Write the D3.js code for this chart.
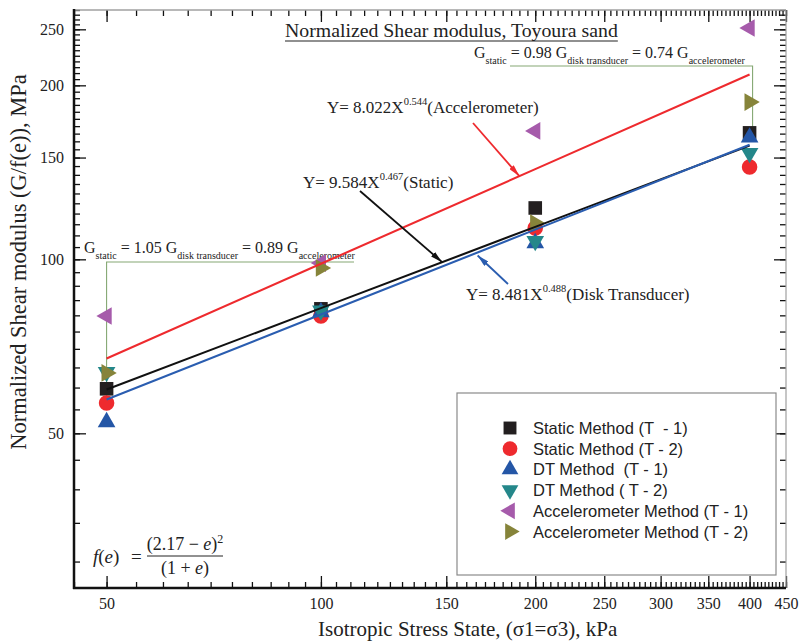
<!DOCTYPE html>
<html>
<head>
<meta charset="utf-8">
<script src="https://cdn.jsdelivr.net/npm/d3@7"></script>
<style>
  body { margin: 0; background: #fff; }
  text { white-space: pre; }
</style>
</head>
<body>
<svg id="chart" width="804" height="642"></svg>
<script>
// Confining stress levels (kPa)
const stress = [50, 100, 200, 400];

// Normalized shear modulus G/f(e), MPa, per test method and specimen
const staticT1 = [59.7, 82.1, 122.7, 165.5];
const staticT2 = [56.4, 79.8, 113.3, 144.5];
const dtT1     = [52.3, 81.0, 106.7, 162.5];
const dtT2     = [63.8, 81.5, 107.5, 152.7];
const accelT1  = [79.8, 98.5, 166.8, 251.3];
const accelT2  = [63.6, 96.6, 115.5, 187.1];

// Power-law fits Y = a * X^b
const fitNames = ["Accelerometer", "Static", "Disk Transducer"];
const fitA     = [8.022, 9.584, 8.481];
const fitB     = [0.544, 0.467, 0.488];

// Axis ticks
const xMajorTicks = [50, 100, 150, 200, 250, 300, 350, 400, 450];
const yMajorTicks = [50, 100, 150, 200, 250];
const xMinorTicks = d3.range(45, 451, 5);
const yMinorTicks = d3.range(30, 271, 5);

const legendLabels = [
  "Static Method (T  - 1)",
  "Static Method (T - 2)",
  "DT Method  (T - 1)",
  "DT Method ( T - 2)",
  "Accelerometer Method (T - 1)",
  "Accelerometer Method (T - 2)"
];

const serif = "'Liberation Serif','Times New Roman',serif";
const sans = "'Liberation Sans',Arial,sans-serif";

const svg = d3.select("#chart");
const plot = { left: 74, right: 786, top: 10, bottom: 588 };

const x = d3.scaleLog().domain([45, 450]).range([plot.left, plot.right]);
const y = d3.scaleLog().domain([27, 270]).range([plot.bottom, plot.top]);

const fitColors = ["#ee2a2e", "#111111", "#2a5db0"];
const fitFn = i => v => fitA[i] * Math.pow(v, fitB[i]);

// ---- axes: ticks on all four sides, pointing inward ----
function tickLayer(gen, transform, labelled) {
  const g = svg.append("g").attr("transform", transform).call(gen);
  g.select(".domain").remove();
  g.selectAll(".tick line").attr("stroke", "#111").attr("stroke-width", 1.3);
  if (labelled) {
    g.selectAll(".tick text").attr("font-family", serif).attr("font-size", 16).attr("fill", "#222");
  }
  return g;
}
const noLabel = () => "";
tickLayer(d3.axisBottom(x).tickValues(xMinorTicks).tickSize(-6).tickFormat(noLabel), `translate(0,${plot.bottom})`);
tickLayer(d3.axisBottom(x).tickValues(xMajorTicks).tickSize(-12).tickPadding(10).tickFormat(d3.format("d")), `translate(0,${plot.bottom})`, true);
tickLayer(d3.axisTop(x).tickValues(xMinorTicks).tickSize(-6).tickFormat(noLabel), `translate(0,${plot.top})`);
tickLayer(d3.axisTop(x).tickValues(xMajorTicks).tickSize(-12).tickFormat(noLabel), `translate(0,${plot.top})`);
tickLayer(d3.axisLeft(y).tickValues(yMinorTicks).tickSize(-6).tickFormat(noLabel), `translate(${plot.left},0)`);
tickLayer(d3.axisLeft(y).tickValues(yMajorTicks).tickSize(-12).tickPadding(10).tickFormat(d3.format("d")), `translate(${plot.left},0)`, true);
tickLayer(d3.axisRight(y).tickValues(yMinorTicks).tickSize(-6).tickFormat(noLabel), `translate(${plot.right},0)`);
tickLayer(d3.axisRight(y).tickValues(yMajorTicks).tickSize(-12).tickFormat(noLabel), `translate(${plot.right},0)`);

// frame
svg.append("line").attr("x1", plot.left).attr("x2", plot.right).attr("y1", plot.top).attr("y2", plot.top)
  .attr("stroke", "#a0a0a0").attr("stroke-width", 1.5);
svg.append("line").attr("x1", plot.right).attr("x2", plot.right).attr("y1", plot.top).attr("y2", plot.bottom)
  .attr("stroke", "#a0a0a0").attr("stroke-width", 1.2);
svg.append("line").attr("x1", plot.left).attr("x2", plot.left).attr("y1", plot.top - 1).attr("y2", plot.bottom + 1)
  .attr("stroke", "#111").attr("stroke-width", 2.5);
svg.append("line").attr("x1", plot.left - 1).attr("x2", plot.right).attr("y1", plot.bottom).attr("y2", plot.bottom)
  .attr("stroke", "#111").attr("stroke-width", 2.5);

// axis titles
svg.append("text")
  .attr("transform", `translate(26,262) rotate(-90)`)
  .attr("text-anchor", "middle").attr("font-family", serif).attr("font-size", 22.5).attr("fill", "#222")
  .text("Normalized Shear modulus (G/f(e)), MPa");
svg.append("text")
  .attr("x", 318).attr("y", 636)
  .attr("font-family", serif).attr("font-size", 21).attr("fill", "#222")
  .text("Isotropic Stress State, (σ1=σ3), kPa");

// ---- ratio brackets ----
const bracketColor = "#86a874";
function ratioNote(x0, baseline, pieces) {
  const t = svg.append("text").attr("x", x0).attr("y", baseline)
    .attr("font-family", serif).attr("fill", "#222").attr("font-size", 16);
  let low = false;
  pieces.forEach(p => {
    const sub = p[1];
    const dy = sub === low ? 0 : (sub ? 6 : -6);
    low = sub;
    t.append("tspan").attr("dy", dy).attr("font-size", sub ? 10 : 16).text(p[0]);
  });
}
// at 400 kPa
ratioNote(474, 58, [["G", false], ["static", true], [" = 0.98 G", false], ["disk transducer", true],
                    [" = 0.74 G", false], ["accelerometer", true]]);
svg.append("path")
  .attr("d", `M510,66H${x(400) + 3}V128`)
  .attr("fill", "none").attr("stroke", bracketColor).attr("stroke-width", 1.1);
// at 50 kPa
ratioNote(84, 253, [["G", false], ["static", true], [" = 1.05 G", false], ["disk transducer", true],
                    [" = 0.89 G", false], ["accelerometer", true]]);
svg.append("path")
  .attr("d", `M${x(50)},396V262H354`)
  .attr("fill", "none").attr("stroke", bracketColor).attr("stroke-width", 1.1);

// ---- measured points ----
const seriesVals = [staticT1, staticT2, dtT1, dtT2, accelT1, accelT2];
const seriesStyle = [
  { type: d3.symbolSquare,   size: 185, rot: 0,   color: "#231f20" },
  { type: d3.symbolCircle,   size: 190, rot: 0,   color: "#ee2a2e" },
  { type: d3.symbolTriangle, size: 135, rot: 0,   color: "#2456a6" },
  { type: d3.symbolTriangle, size: 135, rot: 180, color: "#24878a" },
  { type: d3.symbolTriangle, size: 135, rot: -90, color: "#a65bab" },
  { type: d3.symbolTriangle, size: 135, rot: 90,  color: "#86843a" }
];
seriesVals.forEach((vals, si) => {
  const st = seriesStyle[si];
  svg.append("g").selectAll("path")
    .data(stress.map((s, i) => [s, vals[i]]))
    .join("path")
    .attr("d", d3.symbol().type(st.type).size(st.size))
    .attr("transform", d => `translate(${x(d[0])},${y(d[1])}) rotate(${st.rot})`)
    .attr("fill", st.color);
});

// ---- fitted power-law lines ----
const line = d3.line().x(d => x(d[0])).y(d => y(d[1]));
fitA.forEach((a, i) => {
  const f = fitFn(i);
  svg.append("path")
    .datum(stress.map(s => [s, f(s)]))
    .attr("d", line)
    .attr("fill", "none").attr("stroke", fitColors[i]).attr("stroke-width", 2.1);
});

// ---- fit labels with leader arrows ----
const defs = svg.append("defs");
fitColors.forEach((c, i) => {
  defs.append("marker").attr("id", "arrow" + i)
    .attr("viewBox", "0 0 12 6").attr("refX", 12).attr("refY", 3)
    .attr("markerWidth", 12).attr("markerHeight", 6).attr("markerUnits", "userSpaceOnUse")
    .attr("orient", "auto")
    .append("path").attr("d", "M0,0L12,3L0,6Z").attr("fill", c);
});

function fitLabel(i, lx, ly) {
  const t = svg.append("text").attr("x", lx).attr("y", ly)
    .attr("font-family", serif).attr("font-size", 17).attr("fill", "#222");
  t.append("tspan").text(`Y= ${fitA[i].toFixed(3)}X`);
  t.append("tspan").attr("dy", -8).attr("font-size", 10.5).text(fitB[i].toFixed(3));
  t.append("tspan").attr("dy", 8).text(`(${fitNames[i]})`);
}
function leader(i, fromX, fromY, atX, offY) {
  const tx = x(atX), ty = y(fitFn(i)(atX)) + offY;
  svg.append("line").attr("x1", fromX).attr("y1", fromY).attr("x2", tx).attr("y2", ty)
    .attr("stroke", fitColors[i]).attr("stroke-width", 1.8)
    .attr("marker-end", `url(#arrow${i})`);
}
fitLabel(0, 327, 113);
leader(0, 473, 123, 190, 0);
fitLabel(1, 303, 188);
leader(1, 360, 191, 148, 0);
fitLabel(2, 466, 300);
leader(2, 508, 284, 166, 3);

// ---- legend ----
const lg = svg.append("g");
lg.append("rect").attr("x", 457).attr("y", 393).attr("width", 319).attr("height", 182)
  .attr("fill", "#fff").attr("stroke", "#8a8a8a").attr("stroke-width", 1.2);
legendLabels.forEach((lab, i) => {
  const st = seriesStyle[i];
  const cy = 428 + i * 20.7;
  lg.append("path")
    .attr("d", d3.symbol().type(st.type).size(st.size * 0.9))
    .attr("transform", `translate(510,${cy}) rotate(${st.rot})`)
    .attr("fill", st.color);
  lg.append("text").attr("x", 533).attr("y", cy + 6)
    .attr("font-family", sans).attr("font-size", 16.5).attr("fill", "#222").text(lab);
});

// ---- title ----
const title = svg.append("text").attr("x", 285).attr("y", 37)
  .attr("font-family", serif).attr("font-size", 19.8).attr("fill", "#222")
  .text("Normalized Shear modulus, Toyoura sand");
const tw = title.node().getComputedTextLength();
svg.append("line").attr("x1", 285).attr("x2", 285 + tw).attr("y1", 41).attr("y2", 41)
  .attr("stroke", "#222").attr("stroke-width", 1.2);

// ---- void-ratio function ----
const fe = svg.append("g").attr("font-family", serif).attr("fill", "#222").attr("font-size", 19);
const lhs = fe.append("text").attr("x", 93).attr("y", 563);
lhs.append("tspan").attr("font-style", "italic").text("f");
lhs.append("tspan").text("(");
lhs.append("tspan").attr("font-style", "italic").text("e");
lhs.append("tspan").text(")");
fe.append("text").attr("x", 131).attr("y", 563).text("=");
const num = fe.append("text").attr("x", 185).attr("y", 550).attr("text-anchor", "middle").attr("font-size", 18);
num.append("tspan").text("(2.17 − ");
num.append("tspan").attr("font-style", "italic").text("e");
num.append("tspan").text(")");
num.append("tspan").attr("dy", -7).attr("font-size", 12).text("2");
fe.append("line").attr("x1", 147).attr("x2", 223).attr("y1", 556).attr("y2", 556)
  .attr("stroke", "#222").attr("stroke-width", 1);
const den = fe.append("text").attr("x", 185).attr("y", 574).attr("text-anchor", "middle").attr("font-size", 18);
den.append("tspan").text("(1 + ");
den.append("tspan").attr("font-style", "italic").text("e");
den.append("tspan").text(")");
</script>
</body>
</html>
